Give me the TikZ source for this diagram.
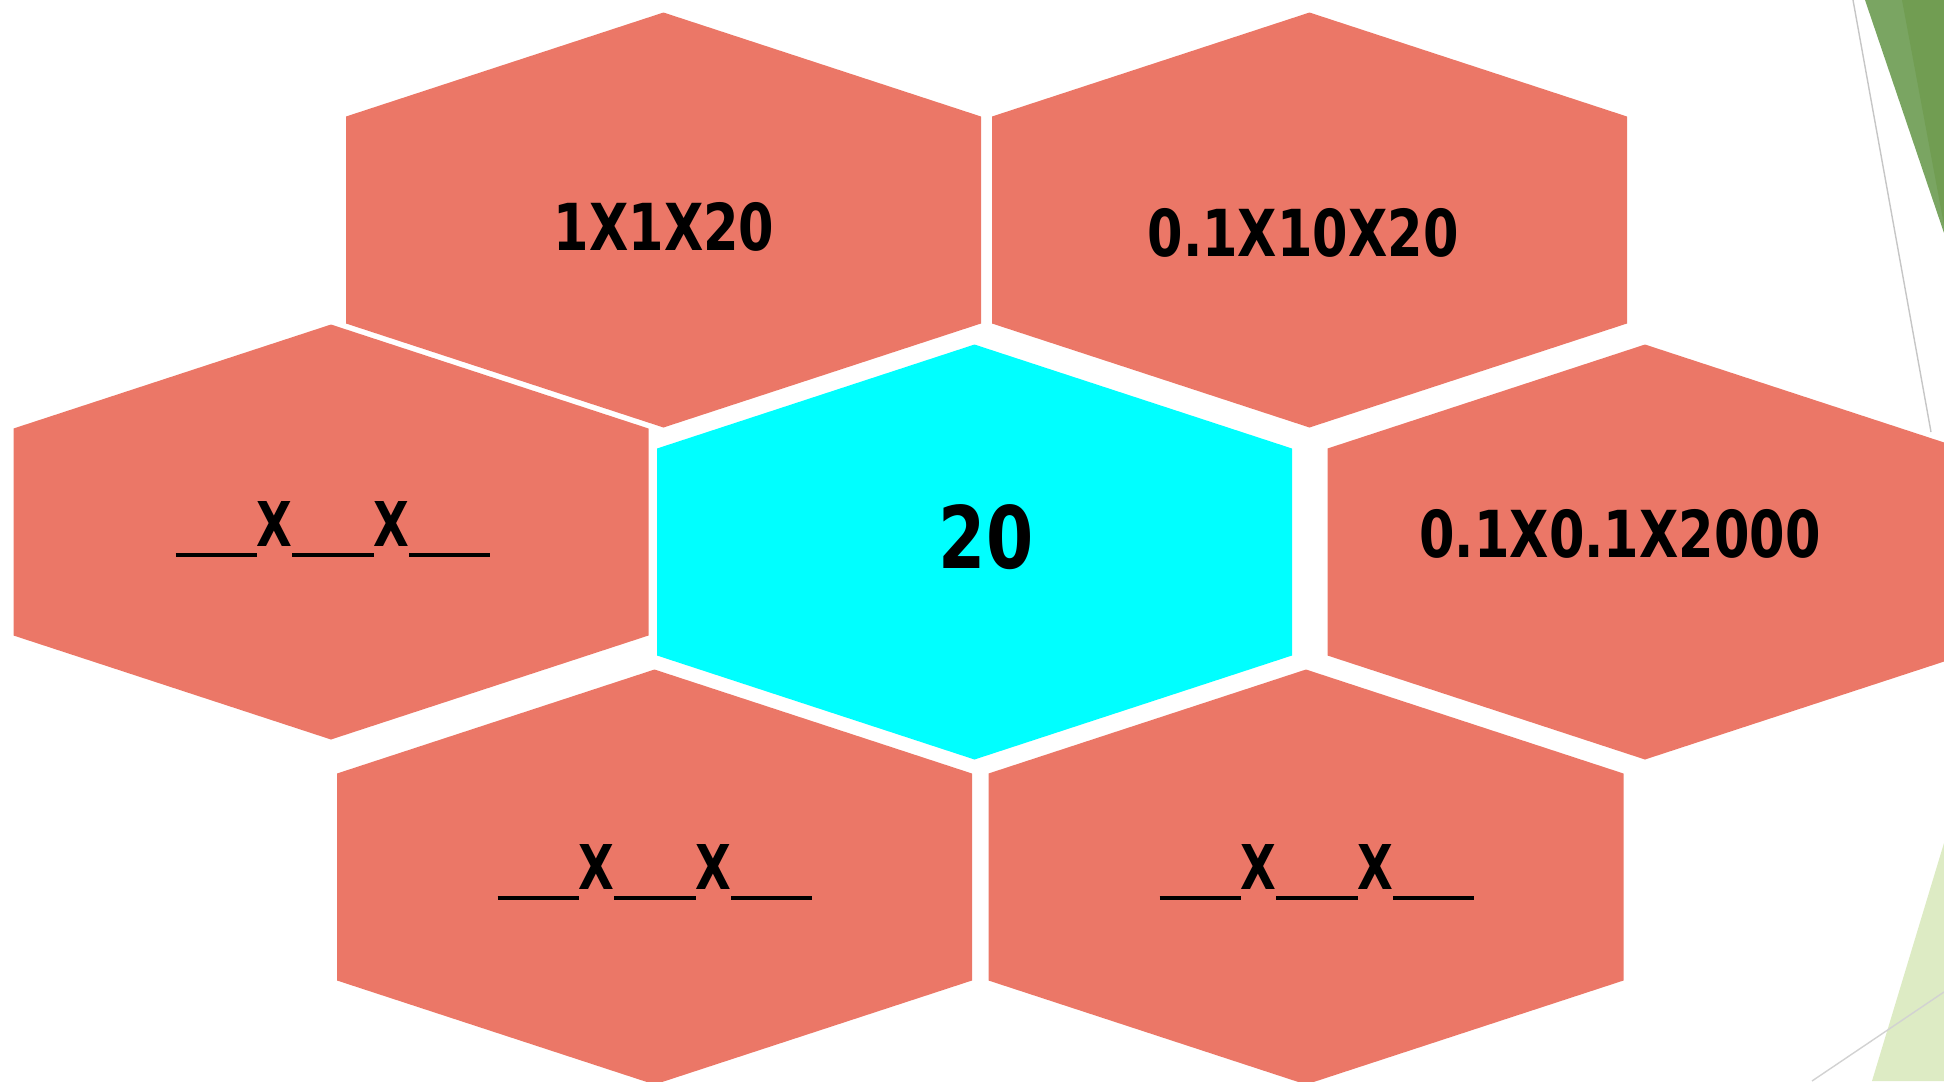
\documentclass[tikz,border=0pt]{standalone}
\usepackage{fontspec}
\setmainfont{DejaVu Sans}
\usepackage{graphicx}
\definecolor{salmon}{HTML}{EB7767}
\definecolor{aqua}{RGB}{0,255,255}
\definecolor{leafdark}{HTML}{719D52}
\definecolor{leaflight}{HTML}{7AA562}
\definecolor{leafpale}{HTML}{DDEBC4}
\newcommand{\tallbox}[1]{\scalebox{1}[1.27]{#1}}
\newcommand{\gaprule}{\rule[-0.094cm]{0.81cm}{0.034cm}}
\newcommand{\blankx}{\scalebox{0.88}[1]{\bfseries X}}
\newcommand{\blankrow}{\scalebox{1}[1.17]{\gaprule\blankx\gaprule\blankx\gaprule}}
\newcommand{\hexcellpath}[2]{(#1,#2-207.5) -- (#1+317.5,#2-103.5) -- (#1+317.5,#2+103.5) -- (#1,#2+207.5) -- (#1-317.5,#2+103.5) -- (#1-317.5,#2-103.5) -- cycle}

\begin{document}
\begin{tikzpicture}[x=0.01cm, y=-0.01cm,
  hexcell/.style={fill=salmon},
  hubcell/.style={fill=aqua},
  sum/.style={font=\bfseries\fontsize{14.5}{16}\selectfont},
  blank/.style={font=\fontsize{15}{17}\selectfont},
  target/.style={font=\bfseries\fontsize{19.3}{22}\selectfont}]
  \useasboundingbox (0,0) rectangle (1944,1081);
  \clip (0,0) rectangle (1944,1081);
  % decoration at the right edge
  \fill[leaflight] (1865,0) -- (1944,0) -- (1944,233) -- cycle;
  \fill[leafdark] (1902,0) -- (1944,0) -- (1944,225) -- cycle;
  \fill[leafpale] (1944,843) -- (1944,1081) -- (1872,1081) -- cycle;
  \draw[gray!45, line width=0.4pt] (1853,0) -- (1931,432);
  \draw[gray!35, line width=0.4pt] (1812,1081) -- (1944,992);
  % hexagons
  \foreach \cx/\cy in {663.5/220, 1309.5/220, 331/532, 1645/552, 654.5/877, 1306/877}
    \fill[hexcell] \hexcellpath{\cx}{\cy};
  \fill[hubcell] \hexcellpath{974.5}{552};
  % texts
  \node[sum] (tl) at (664,227) {\tallbox{1X1X20}};
  \node[sum] (tr) at (1303,233) {\tallbox{0.1X10X20}};
  \node[blank] (ml) at (333,529) {\blankrow};
  \node[target] (hub) at (986,537) {\tallbox{20}};
  \node[sum] (mr) at (1620,534) {\tallbox{0.1X0.1X2000}};
  \node[blank] (bl) at (655,872) {\blankrow};
  \node[blank] (br) at (1317,872) {\blankrow};
\end{tikzpicture}
\end{document}
